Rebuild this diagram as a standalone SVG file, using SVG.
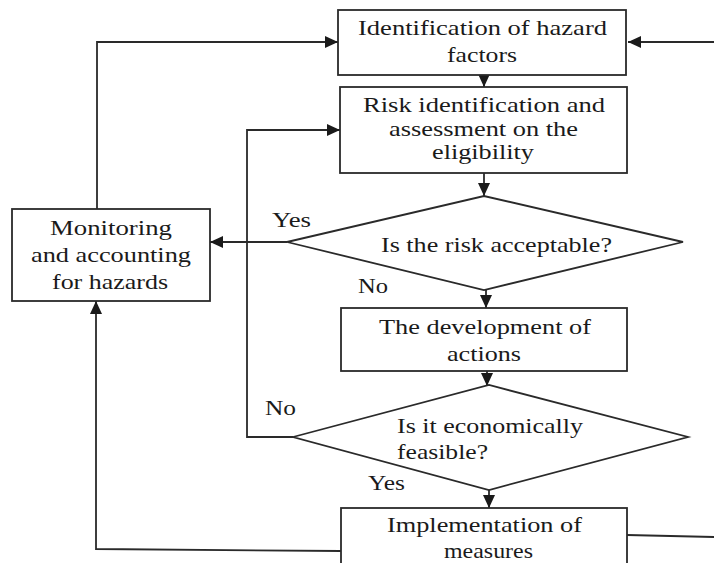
<svg xmlns="http://www.w3.org/2000/svg" width="714" height="563" viewBox="0 0 714 563">
<defs>
<style>
.box{fill:#fff;stroke:#2a2a2a;stroke-width:1.8}
.ln{fill:none;stroke:#2a2a2a;stroke-width:1.8}
text{font-family:"Liberation Serif","Times New Roman",Times,serif;font-size:22px;fill:#1a1a1a}
.c{text-anchor:middle}
</style>
<marker id="ah" markerUnits="userSpaceOnUse" markerWidth="14" markerHeight="12" refX="13" refY="6" orient="auto">
<path d="M0,0 L13,6 L0,12 Z" fill="#1a1a1a"/>
</marker>
</defs>
<g id="connectors">
<path class="ln" d="M714,42 L628,42" marker-end="url(#ah)"/>
<path class="ln" d="M97,209 L97,42 L338,42" marker-end="url(#ah)"/>
<path class="ln" d="M484,75 L484,87" marker-end="url(#ah)"/>
<path class="ln" d="M484,173 L484,196" marker-end="url(#ah)"/>
<path class="ln" d="M287,242 L210,242" marker-end="url(#ah)"/>
<path class="ln" d="M486,290 L486,308" marker-end="url(#ah)"/>
<path class="ln" d="M487,371 L487,386" marker-end="url(#ah)"/>
<path class="ln" d="M293,437 L247,437 L247,130 L340,130" marker-end="url(#ah)"/>
<path class="ln" d="M489,490 L489,508" marker-end="url(#ah)"/>
<path class="ln" d="M341,551 L96,549 L96,301" marker-end="url(#ah)"/>
<path class="ln" d="M627,535 L714,537"/>
<text x="272" y="227" textLength="39" lengthAdjust="spacingAndGlyphs">Yes</text>
<text x="358" y="293" textLength="30" lengthAdjust="spacingAndGlyphs">No</text>
<text x="265" y="415" textLength="31" lengthAdjust="spacingAndGlyphs">No</text>
<text x="368" y="490" textLength="37" lengthAdjust="spacingAndGlyphs">Yes</text>
</g>
<g id="n1">
<rect class="box" x="338" y="10" width="288" height="65"/>
<text class="c" x="482.5" y="35" textLength="249" lengthAdjust="spacingAndGlyphs">Identification of hazard</text>
<text class="c" x="482" y="62" textLength="70" lengthAdjust="spacingAndGlyphs">factors</text>
</g>
<g id="n2">
<rect class="box" x="340" y="87" width="287" height="86"/>
<text class="c" x="484" y="112" textLength="242" lengthAdjust="spacingAndGlyphs">Risk identification and</text>
<text class="c" x="483.5" y="136" textLength="189" lengthAdjust="spacingAndGlyphs">assessment on the</text>
<text class="c" x="483" y="159" textLength="102" lengthAdjust="spacingAndGlyphs">eligibility</text>
</g>
<g id="n3">
<path class="box" d="M287,242 L484,196 L683,242 L484,290 Z"/>
<text class="c" x="496.5" y="252" textLength="231" lengthAdjust="spacingAndGlyphs">Is the risk acceptable?</text>
</g>
<g id="n4">
<rect class="box" x="12" y="209" width="198" height="92"/>
<text class="c" x="111" y="235" textLength="122" lengthAdjust="spacingAndGlyphs">Monitoring</text>
<text class="c" x="111" y="262" textLength="160" lengthAdjust="spacingAndGlyphs">and accounting</text>
<text class="c" x="110" y="289" textLength="116" lengthAdjust="spacingAndGlyphs">for hazards</text>
</g>
<g id="n5">
<rect class="box" x="341" y="308" width="286" height="63"/>
<text class="c" x="485" y="334" textLength="212" lengthAdjust="spacingAndGlyphs">The development of</text>
<text class="c" x="484" y="361" textLength="74" lengthAdjust="spacingAndGlyphs">actions</text>
</g>
<g id="n6">
<path class="box" d="M293,437 L489,385 L688,437 L489,490 Z"/>
<text x="397" y="433" textLength="186" lengthAdjust="spacingAndGlyphs">Is it economically</text>
<text x="397" y="459" textLength="91" lengthAdjust="spacingAndGlyphs">feasible?</text>
</g>
<g id="n7">
<rect class="box" x="341" y="508" width="286" height="70"/>
<text class="c" x="484.5" y="532" textLength="195" lengthAdjust="spacingAndGlyphs">Implementation of</text>
<text class="c" x="488.5" y="558" textLength="89" lengthAdjust="spacingAndGlyphs">measures</text>
</g>
</svg>
